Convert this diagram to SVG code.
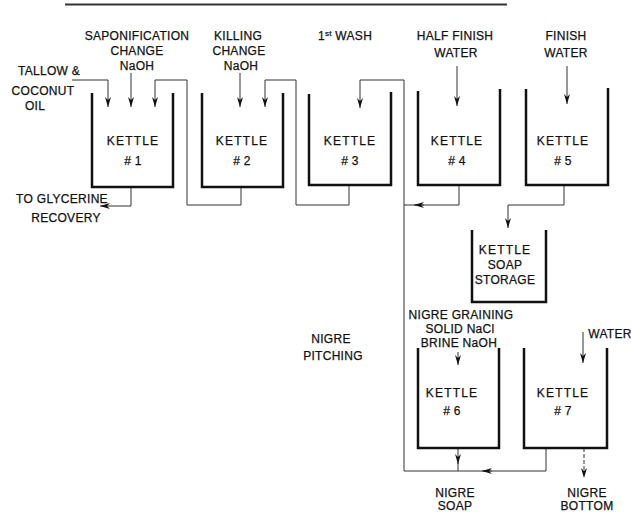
<svg xmlns="http://www.w3.org/2000/svg" width="631" height="512" viewBox="0 0 631 512">
<style>
text{font-family:"Liberation Sans",Arial,sans-serif;font-size:12px;fill:#111;stroke:#111;stroke-width:0.25;text-anchor:middle;letter-spacing:0.3px}
.k{fill:none;stroke:#111;stroke-width:2.5}
.c{fill:none;stroke:#333;stroke-width:1}
.a{marker-end:url(#ah)}
.kt{letter-spacing:1.2px}
</style>
<defs>
<marker id="ah" viewBox="0 0 10 6" refX="10" refY="3" markerWidth="10" markerHeight="6" markerUnits="userSpaceOnUse" orient="auto">
<path d="M0,0 L10,3 L0,6 L3,3 Z" fill="#111"/>
</marker>
</defs>
<line x1="65" y1="4.5" x2="507" y2="4.5" stroke="#333" stroke-width="1.8"/>

<g id="connectors">
<path class="c a" d="M72,80 H108 V107"/>
<path class="c a" d="M131,73 V107"/>
<path class="c a" d="M241,187 V205 H187 V80 H155 V107"/>
<path class="c a" d="M131,187 V206 H100"/>
<path class="c a" d="M240,73 V107"/>
<path class="c a" d="M349,185 V205 H296 V80 H265 V107"/>
<path class="c a" d="M546,448 V471 H404 V80 H360 V108"/>
<path class="c" d="M459,185 V205 H404"/>
<path class="c a" d="M424,205 H414"/>
<path class="c a" d="M492,471 H482"/>
<path class="c a" d="M564,185 V205 H508 V228"/>
<path class="c a" d="M457,66 V106"/>
<path class="c a" d="M567,66 V104"/>
<path class="c a" d="M458,352 V365"/>
<path class="c a" d="M583,332 V363"/>
<path class="c a" d="M458,448 V464"/>
<path class="c" d="M458,462 V471"/>
<path class="c a" d="M584,448 V478" stroke-dasharray="4,2"/>
</g>

<g id="kettle1"><path class="k" d="M92,93 V187 H173 V93"/><text class="kt" x="133" y="145">KETTLE</text><text x="133" y="165"># 1</text></g>
<g id="kettle2"><path class="k" d="M202,93 V187 H283 V93"/><text class="kt" x="242" y="145">KETTLE</text><text x="242" y="165"># 2</text></g>
<g id="kettle3"><path class="k" d="M309,94 V185 H391 V92"/><text class="kt" x="350" y="145">KETTLE</text><text x="350" y="165"># 3</text></g>
<g id="kettle4"><path class="k" d="M418,91 V185 H500 V89"/><text class="kt" x="457" y="145">KETTLE</text><text x="457" y="165"># 4</text></g>
<g id="kettle5"><path class="k" d="M526,89 V185 H608 V88"/><text class="kt" x="563" y="145">KETTLE</text><text x="563" y="165"># 5</text></g>
<g id="storage"><path class="k" d="M472,230 V302 H546 V230"/><text class="kt" x="505" y="254">KETTLE</text><text x="505" y="269">SOAP</text><text x="505" y="284">STORAGE</text></g>
<g id="kettle6"><path class="k" d="M418,348 V448 H499 V348"/><text class="kt" x="452" y="397">KETTLE</text><text x="452" y="415"># 6</text></g>
<g id="kettle7"><path class="k" d="M524,348 V448 H607 V348"/><text class="kt" x="563" y="397">KETTLE</text><text x="563" y="415"># 7</text></g>

<g id="labels">
<text x="137" y="40">SAPONIFICATION</text>
<text x="137" y="55">CHANGE</text>
<text x="137" y="70">NaOH</text>
<text x="49" y="75">TALLOW &amp;</text>
<text x="43" y="95">COCONUT</text>
<text x="35" y="110">OIL</text>
<text x="238" y="40">KILLING</text>
<text x="239" y="55">CHANGE</text>
<text x="241" y="70">NaOH</text>
<text x="345" y="40">1<tspan font-size="8" dy="-4">st</tspan><tspan dy="4"> WASH</tspan></text>
<text x="455" y="40">HALF FINISH</text>
<text x="456" y="57">WATER</text>
<text x="566" y="40">FINISH</text>
<text x="566" y="57">WATER</text>
<text x="62" y="203">TO GLYCERINE</text>
<text x="66" y="222">RECOVERY</text>
<text x="461" y="319">NIGRE GRAINING</text>
<text x="460" y="333">SOLID  NaCl</text>
<text x="459" y="347">BRINE  NaOH</text>
<text x="610" y="338">WATER</text>
<text x="331" y="343">NIGRE</text>
<text x="333" y="360">PITCHING</text>
<text x="455" y="497">NIGRE</text>
<text x="455" y="510">SOAP</text>
<text x="587" y="497">NIGRE</text>
<text x="587" y="510">BOTTOM</text>
</g>
</svg>
